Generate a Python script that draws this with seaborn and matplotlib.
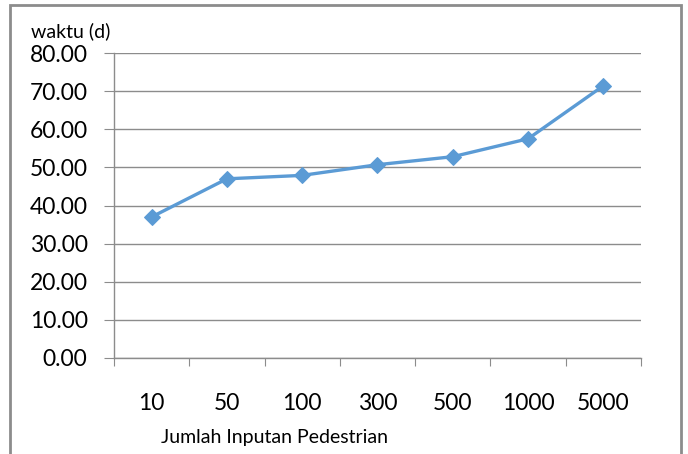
import matplotlib
matplotlib.use('Agg')
import matplotlib.pyplot as plt
import seaborn as sns
import pandas as pd
from matplotlib.patches import Rectangle

categories = ['10', '50', '100', '300', '500', '1000', '5000']
waktu = [37.0, 47.0, 47.9, 50.7, 52.8, 57.5, 71.4]

sns.set_style('white')
plt.rcParams['font.family'] = ['Lato', 'DejaVu Sans']
plt.rcParams['text.color'] = 'black'
plt.rcParams['xtick.color'] = 'black'
plt.rcParams['ytick.color'] = 'black'

df = pd.DataFrame({'jumlah': categories, 'waktu': waktu})

fig = plt.figure(figsize=(6.88, 4.54), dpi=100)
ax = fig.add_axes([114 / 688, 1 - 358 / 454, 527 / 688, 305 / 454])

sns.lineplot(data=df, x='jumlah', y='waktu', ax=ax, sort=False,
             color='#5B9BD5', linewidth=2.4, marker='D', markersize=8,
             markeredgecolor='#5B9BD5')

ax.set_xlim(-0.5, 6.5)
ax.set_ylim(0, 80)
ax.set_yticks(range(0, 81, 10))
ax.set_yticklabels([f'{v:.2f}' for v in range(0, 81, 10)], fontsize=16.5)
ax.yaxis.grid(True, color='#8c8c8c', linewidth=1)
ax.set_axisbelow(True)

ax.set_xticks([i + 0.5 for i in range(-1, 7)])
ax.set_xticklabels([])
ax.set_xticks(range(7), minor=True)
ax.set_xticklabels(categories, minor=True, fontsize=16.5)
ax.tick_params(axis='x', which='major', direction='out', length=6,
               color='#8c8c8c', bottom=True)
ax.tick_params(axis='x', which='minor', length=0, pad=25)
ax.tick_params(axis='y', direction='out', length=7, color='#8c8c8c',
               left=True, pad=12)

for side in ['top', 'right']:
    ax.spines[side].set_visible(False)
for side in ['left', 'bottom']:
    ax.spines[side].set_color('#8c8c8c')
    ax.spines[side].set_linewidth(1)

ax.set_xlabel('')
ax.set_ylabel('')
fig.text(31 / 688, 1 - 31 / 454, 'waktu (d)', fontsize=14, va='center', ha='left')
fig.text(161 / 688, 1 - 437 / 454, 'Jumlah Inputan Pedestrian', fontsize=14,
         va='center', ha='left')

fig.patches.append(Rectangle((10 / 688, -0.05), 671 / 688, 1.05 - 5 / 454,
                             transform=fig.transFigure, fill=False,
                             edgecolor='#8c8c8c', linewidth=2))

fig.savefig('out.png', dpi=100)
